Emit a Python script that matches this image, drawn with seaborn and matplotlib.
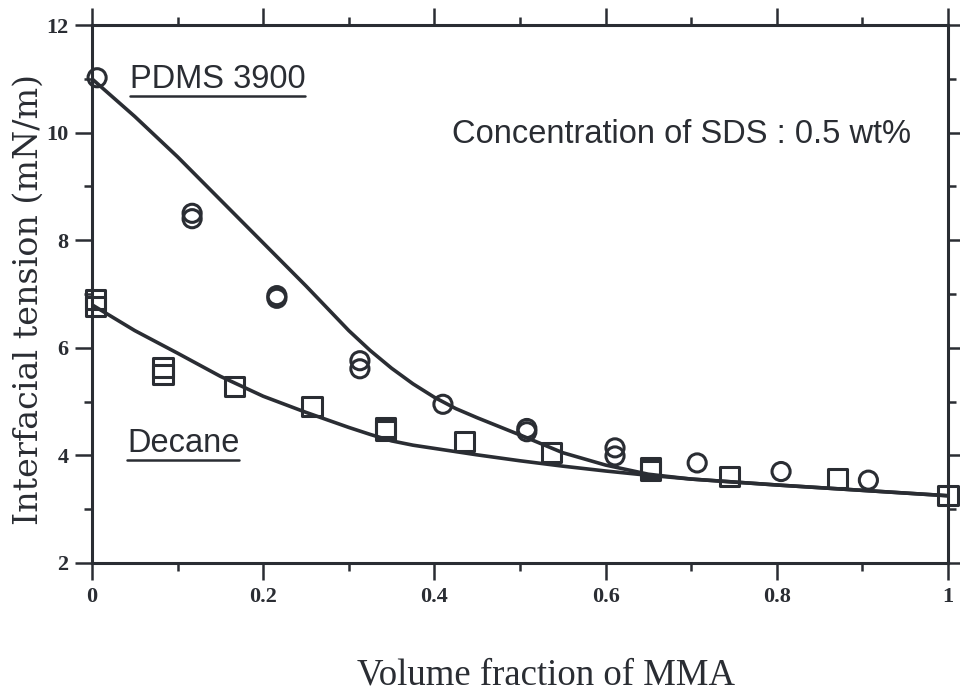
import matplotlib
matplotlib.use("Agg")
import matplotlib.pyplot as plt
from matplotlib.lines import Line2D
import seaborn as sns
import pandas as pd

# Measured interfacial tension (mN/m) vs. volume fraction of MMA
pdms_x = [0.006, 0.117, 0.117, 0.216, 0.216, 0.313, 0.313, 0.41, 0.508, 0.508,
          0.611, 0.611, 0.707, 0.805, 0.907]
pdms_y = [11.02, 8.5, 8.4, 6.97, 6.92, 5.76, 5.61, 4.95, 4.5, 4.44,
          4.14, 3.99, 3.86, 3.70, 3.54]

decane_x = [0.004, 0.004, 0.083, 0.083, 0.167, 0.257, 0.343, 0.343, 0.435,
            0.537, 0.652, 0.652, 0.745, 0.871, 1.0]
decane_y = [6.89, 6.76, 5.63, 5.51, 5.28, 4.91, 4.52, 4.46, 4.26,
            4.06, 3.77, 3.72, 3.6, 3.57, 3.25]

# Fitted curves
fit_x = [0.0, 0.05, 0.1, 0.15, 0.2, 0.25, 0.3, 0.325, 0.35, 0.375, 0.4,
         0.425, 0.45, 0.5, 0.55, 0.6, 0.65, 0.7, 0.8, 0.9, 1.0]
pdms_fit = [11.0, 10.3, 9.55, 8.75, 7.95, 7.15, 6.32, 5.95, 5.62, 5.33, 5.08,
            4.87, 4.7, 4.38, 4.05, 3.82, 3.65, 3.56, 3.45, 3.35, 3.25]
decane_fit = [6.8, 6.32, 5.9, 5.47, 5.1, 4.8, 4.52, 4.39, 4.27, 4.19, 4.13,
              4.07, 4.01, 3.9, 3.8, 3.71, 3.63, 3.56, 3.45, 3.35, 3.25]

x_ticks = [0, 0.2, 0.4, 0.6, 0.8, 1.0]
x_tick_labels = ["0", "0.2", "0.4", "0.6", "0.8", "1"]
y_ticks = [2, 4, 6, 8, 10, 12]
y_tick_labels = ["2", "4", "6", "8", "10", "12"]

ink = "#2a2d33"

sns.set_theme(style="ticks")
plt.rcParams["font.family"] = ["Liberation Serif", "DejaVu Serif"]
plt.rcParams["axes.edgecolor"] = ink
plt.rcParams["xtick.color"] = ink
plt.rcParams["ytick.color"] = ink
plt.rcParams["text.color"] = ink
plt.rcParams["axes.labelcolor"] = ink

fig = plt.figure(figsize=(9.6, 6.93), dpi=100)
fig.patch.set_facecolor("white")
ax = fig.add_axes([0.0958, 0.1876, 0.8917, 0.7763])
ax.set_facecolor("white")

fits = pd.DataFrame({"x": fit_x, "pdms": pdms_fit, "decane": decane_fit})
sns.lineplot(data=fits, x="x", y="pdms", ax=ax, color=ink, lw=2.6, sort=False)
sns.lineplot(data=fits, x="x", y="decane", ax=ax, color=ink, lw=2.6, sort=False)

sns.scatterplot(x=pdms_x, y=pdms_y, ax=ax, marker="o", s=170,
                facecolor="none", edgecolor=ink, linewidth=2.2, clip_on=False,
                zorder=4)
sns.scatterplot(x=decane_x, y=decane_y, ax=ax, marker="s", s=190,
                facecolor="none", edgecolor=ink, linewidth=2.2, clip_on=False,
                zorder=4)

ax.set_xlim(0, 1)
ax.set_ylim(2, 12)
ax.set_xticks(x_ticks)
ax.set_xticklabels(x_tick_labels, fontsize=16, fontweight="bold")
ax.set_yticks(y_ticks)
ax.set_yticklabels(y_tick_labels, fontsize=16, fontweight="bold")
ax.set_xticks([0.1, 0.3, 0.5, 0.7, 0.9], minor=True)
ax.set_yticks([3, 5, 7, 9, 11], minor=True)
ax.tick_params(which="both", direction="out", top=True, right=True,
               labeltop=False, labelright=False, width=1.8)
ax.tick_params(which="major", length=12, pad=5)
ax.tick_params(which="minor", length=6)
for side in ax.spines.values():
    side.set_visible(True)
    side.set_linewidth(2.2)
    side.set_color(ink)

ax.set_xlabel("Volume fraction of MMA", fontsize=26.5)
ax.set_ylabel("Interfacial tension (mN/m)", fontsize=24,
              family=["DejaVu Serif"])
ax.xaxis.set_label_coords(0.53, -0.176)
ax.yaxis.set_label_coords(-0.055, 0.489)

sans = ["Liberation Sans", "DejaVu Sans"]
t1 = ax.text(0.044, 10.83, "PDMS 3900", family=sans, fontsize=23.5)
t2 = ax.text(0.041, 4.06, "Decane", family=sans, fontsize=23.5)
ax.text(0.42, 9.81, "Concentration of SDS : 0.5 wt%", family=sans,
        fontsize=23.5)

# underline the series labels
fig.canvas.draw()
renderer = fig.canvas.get_renderer()
inv = fig.transFigure.inverted()
for t in (t1, t2):
    bb = t.get_window_extent(renderer)
    (x0, y0), (x1, _) = inv.transform([(bb.x0, bb.y0 - 1), (bb.x1, bb.y0 - 1)])
    fig.add_artist(Line2D([x0, x1], [y0, y0], transform=fig.transFigure,
                          color=ink, lw=1.8))

fig.savefig("out.png", dpi=100, facecolor="white")
